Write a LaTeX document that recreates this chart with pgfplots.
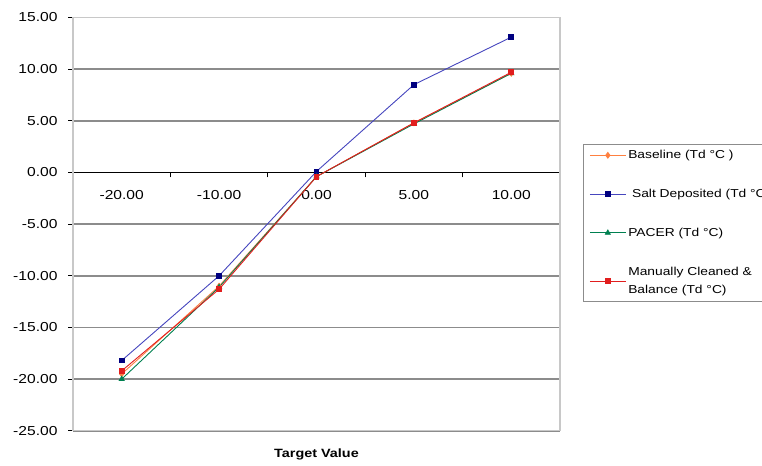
\documentclass[border=0pt]{standalone}
\usepackage{fontspec}
\setmainfont{Liberation Sans}[FakeStretch=1.2]
\usepackage{pgfplots}
\pgfplotsset{compat=1.18}

\definecolor{baseorange}{RGB}{255,128,64}
\definecolor{saltblue}{RGB}{0,0,128}
\definecolor{saltline}{RGB}{70,70,190}
\definecolor{pacergreen}{RGB}{0,128,80}
\definecolor{cleanred}{RGB}{225,30,30}
\definecolor{gridgray}{RGB}{140,140,140}
\definecolor{framegray}{RGB}{200,200,200}

\begin{document}
\begin{tikzpicture}
\begin{axis}[
  at={(73bp,35.2bp)}, anchor=south west,
  scale only axis, width=487bp, height=413.3bp,
  xmin=-0.5, xmax=4.5, ymin=-25, ymax=15,
  axis x line=middle, axis y line=left,
  axis line style={-, black, line width=0.8bp},
  xtick={0,1,2,3,4},
  xticklabels={-20.00,-10.00,0.00,5.00,10.00},
  minor xtick={-0.5,0.5,1.5,2.5,3.5,4.5},
  ytick={-25,-20,...,15},
  tick align=outside,
  major x tick style={draw=none},
  minor tick length=5bp, major tick length=5bp,
  tick style={black, line width=0.8bp},
  ymajorgrids, grid style={gridgray, line width=1.4bp},
  /pgf/number format/fixed,
  /pgf/number format/fixed zerofill,
  /pgf/number format/precision=2,
  /pgf/number format/assume math mode=true,
  ticklabel style={font=\fontsize{13bp}{15bp}\selectfont},
  xticklabel style={yshift=-9bp},
  yticklabel style={xshift=-7bp},
  xlabel={\textbf{Target Value}},
  xlabel style={at={(rel axis cs:0.5,0)}, anchor=center, yshift=-24bp,
                font=\fontsize{12bp}{14bp}\selectfont},
  clip=false,
  legend style={at={(rel axis cs:1.0472,0.694)}, anchor=north west,
                draw=gridgray, line width=0.8bp, inner xsep=6bp, inner ysep=4bp,
                font=\fontsize{11.5bp}{13.5bp}\selectfont,
                row sep=25bp, cells={align=left}},
  legend cell align=left,
  legend image code/.code={%
    \draw[mark repeat=2, mark phase=2, #1]
      plot coordinates {(0bp,0bp) (18bp,0bp) (36bp,0bp)};},
  every axis plot/.append style={line width=0.9bp},
]
% plot frame, drawn under the data
\draw[framegray, line width=1.2bp] (rel axis cs:0,0) rectangle (rel axis cs:1,1);

\addplot[baseorange, mark=diamond*, mark size=2.8bp]
  coordinates {(0,-19.5) (1,-11.0) (2,-0.4) (3,4.8) (4,9.6)};
\addlegendentry{Baseline (Td °C )}

\addplot[saltline, mark=square*, mark size=2.4bp, mark options={fill=saltblue, draw=saltblue}]
  coordinates {(0,-18.2) (1,-10.0) (2,0.1) (3,8.5) (4,13.1)};
\addlegendentry{\ Salt Deposited (Td °C)}

\addplot[pacergreen, mark=triangle*, mark size=2.8bp]
  coordinates {(0,-20.0) (1,-11.1) (2,-0.4) (3,4.7) (4,9.6)};
\addlegendentry{PACER (Td °C)}

\addplot[cleanred, mark=square*, mark size=2.4bp]
  coordinates {(0,-19.2) (1,-11.3) (2,-0.4) (3,4.8) (4,9.7)};
\addlegendentry{Manually Cleaned \&\\[5bp]Balance (Td °C)}
\end{axis}
\pgfresetboundingbox
\useasboundingbox (0,0) rectangle (762bp,466bp);
\end{tikzpicture}
\end{document}
